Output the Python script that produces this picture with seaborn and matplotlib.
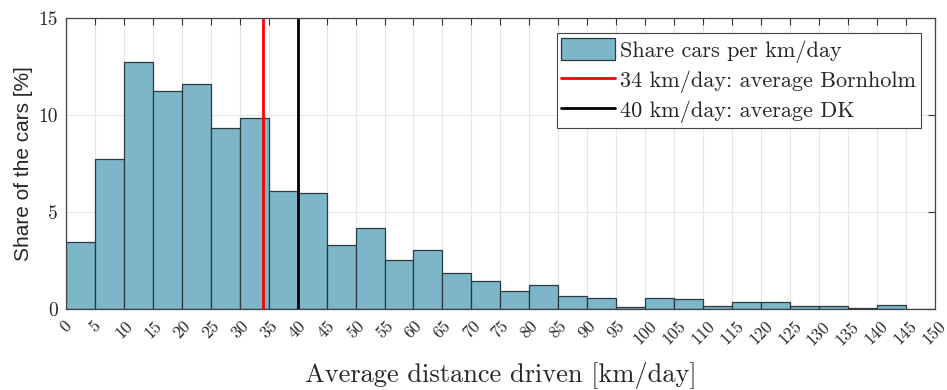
import matplotlib
matplotlib.use('Agg')
import matplotlib.pyplot as plt
import matplotlib.transforms as mtransforms
import seaborn as sns
import numpy as np
import pandas as pd

# share of cars [%] per 5 km/day bin
bin_left = list(range(0, 150, 5))
share = [3.42, 7.72, 12.73, 11.21, 11.57, 9.32, 9.80, 6.04, 5.97, 3.30,
         4.14, 2.51, 3.00, 1.82, 1.41, 0.93, 1.20, 0.67, 0.55, 0.07,
         0.55, 0.48, 0.14, 0.36, 0.36, 0.12, 0.12, 0.05, 0.19, 0.0]
avg_bornholm = 34
avg_dk = 40
xticks = list(range(0, 155, 5))
yticks = [0, 5, 10, 15]

df = pd.DataFrame({'km': [b + 2.5 for b in bin_left], 'share': share})

sns.set_style('white')
plt.rcParams['axes.unicode_minus'] = False
cm = 'cmr10'

fig = plt.figure(figsize=(9.47, 3.9), dpi=100)
ax = fig.add_axes([0.0697, 0.2085, 0.9173, 0.7465])

sns.histplot(data=df, x='km', weights='share', bins=xticks, color='#7db6c9',
             edgecolor='#2b3a3f', linewidth=0.9, alpha=1.0, ax=ax,
             label='Share cars per km/day')
ax.axvline(avg_bornholm, color='#ff0000', lw=2, label='34 km/day: average Bornholm')
ax.axvline(avg_dk, color='black', lw=2, label='40 km/day: average DK')

ax.set_xlim(0, 150)
ax.set_ylim(0, 15)
ax.set_xticks(xticks)
ax.set_yticks(yticks)
ax.set_xticklabels([str(t) for t in xticks], rotation=45, ha='center', va='top',
                   fontname=cm, fontsize=12.5)
ax.set_yticklabels([str(t) for t in yticks], fontname=cm, fontsize=14)
# nudge the last label so it stays inside the figure, as in the original
last = ax.get_xticklabels()[-1]
last.set_transform(last.get_transform() +
                   mtransforms.ScaledTranslation(-5 / 100, 0, fig.dpi_scale_trans))
ax.grid(True, color='#e6e6e6', lw=0.8)
ax.set_axisbelow(True)
ax.tick_params(direction='in', top=True, right=True, length=5, color='#333333')
ax.tick_params(axis='x', pad=7)
ax.tick_params(axis='y', pad=6)
for s in ax.spines.values():
    s.set_color('#444444')
    s.set_linewidth(0.9)

ax.set_xlabel('Average distance driven [km/day]', fontname=cm, fontsize=19, labelpad=10)
ax.set_ylabel('Share of the cars [%]', family='Liberation Sans', fontsize=15, labelpad=4)

handles, labels = ax.get_legend_handles_labels()
order = [labels.index('Share cars per km/day'),
         labels.index('34 km/day: average Bornholm'),
         labels.index('40 km/day: average DK')]
leg = ax.legend([handles[i] for i in order], [labels[i] for i in order],
                loc='upper right', bbox_to_anchor=(0.984, 0.946), prop={'family': cm, 'size': 16},
                frameon=True, fancybox=False, edgecolor='#444444', framealpha=1,
                borderpad=0.2, labelspacing=0.25, handlelength=2.4, handleheight=1.2,
                handletextpad=0.25, borderaxespad=0)
leg.get_frame().set_linewidth(0.8)

fig.savefig('out.png', dpi=100)
